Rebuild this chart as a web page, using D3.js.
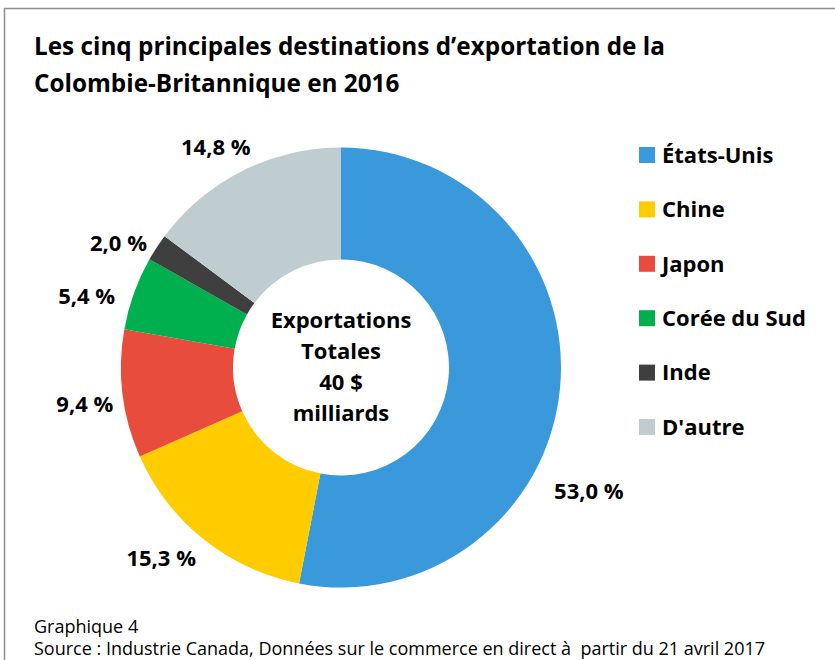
<!DOCTYPE html>
<html lang="fr">
<head>
<meta charset="utf-8">
<title>Destinations d'exportation C.-B. 2016</title>
<style>
  body { margin: 0; background: #fff; }
  svg { display: block; font-family: "Open Sans", Lato, sans-serif; }
  .title { font-size: 24.3px; font-weight: bold; fill: #000; }
  .lbl { font-size: 22px; font-weight: bold; fill: #000; }
  .foot { font-size: 18px; fill: #000; }
</style>
</head>
<body>
<div id="chart"></div>
<script src="https://d3js.org/d3.v7.min.js"></script>
<script>
const countries = ["États-Unis", "Chine", "Japon", "Corée du Sud", "Inde", "D'autre"];
const shares = [53.0, 15.3, 9.4, 5.4, 2.0, 14.8];
const colors = ["#3a99da", "#ffcc00", "#e74c3c", "#00b04f", "#3f3f3f", "#bfcdd1"];
const centerLines = ["Exportations", "Totales", "40 $", "milliards"];

// hand placed offsets for the outside labels (like Excel moved them)
const labelNudge = [[-1, 100], [-24, -5], [-8, 7], [-19, 13], [-13, 12], [-13, 3]];

const W = 835, H = 660;
const cx = 341, cy = 367.5, rOut = 220, rIn = 108;

const svg = d3.select("#chart").append("svg")
  .attr("width", W).attr("height", H);

svg.append("rect")
  .attr("x", 4.5).attr("y", 8.5)
  .attr("width", W + 10).attr("height", H + 10)
  .attr("fill", "#fff").attr("stroke", "#8c8c8c").attr("stroke-width", 1.5);

svg.append("text").attr("class", "title").attr("x", 34).attr("y", 55)
  .text("Les cinq principales destinations d’exportation de la");
svg.append("text").attr("class", "title").attr("x", 34).attr("y", 92)
  .text("Colombie-Britannique en 2016");

const pie = d3.pie().sort(null).value(d => d);
const arcs = pie(shares);
const arc = d3.arc().innerRadius(rIn).outerRadius(rOut);
const labelArc = d3.arc().innerRadius(250).outerRadius(250);

const g = svg.append("g").attr("transform", `translate(${cx},${cy})`);

g.selectAll("path")
  .data(arcs)
  .join("path")
  .attr("d", arc)
  .attr("fill", (d, i) => colors[i]);

g.selectAll("text.pct")
  .data(arcs)
  .join("text")
  .attr("class", "lbl pct")
  .attr("text-anchor", "middle")
  .attr("dy", "0.35em")
  .attr("transform", (d, i) => {
    const [x, y] = labelArc.centroid(d);
    return `translate(${x + labelNudge[i][0]},${y + labelNudge[i][1]})`;
  })
  .text(d => d3.format(".1f")(d.data).replace(".", ",") + " %");

g.selectAll("text.ctr")
  .data(centerLines)
  .join("text")
  .attr("class", "lbl ctr")
  .attr("text-anchor", "middle")
  .attr("x", 0)
  .attr("y", (d, i) => -47 + i * 31)
  .attr("dy", "0.35em")
  .text(d => d);

// legend
const legY = d3.scalePoint().domain(countries).range([155, 427]);
const leg = svg.append("g").selectAll("g")
  .data(countries)
  .join("g")
  .attr("transform", d => `translate(639,${legY(d)})`);
leg.append("rect")
  .attr("x", 0).attr("y", -8).attr("width", 16).attr("height", 16)
  .attr("fill", (d, i) => colors[i]);
leg.append("text")
  .attr("class", "lbl")
  .attr("x", 23).attr("dy", "0.35em")
  .text(d => d);

svg.append("text").attr("class", "foot").attr("x", 34).attr("y", 633).text("Graphique 4");
svg.append("text").attr("class", "foot").attr("x", 34).attr("y", 655)
  .text("Source : Industrie Canada, Données sur le commerce en direct à  partir du 21 avril 2017")
  .attr("xml:space", "preserve");
</script>
</body>
</html>
